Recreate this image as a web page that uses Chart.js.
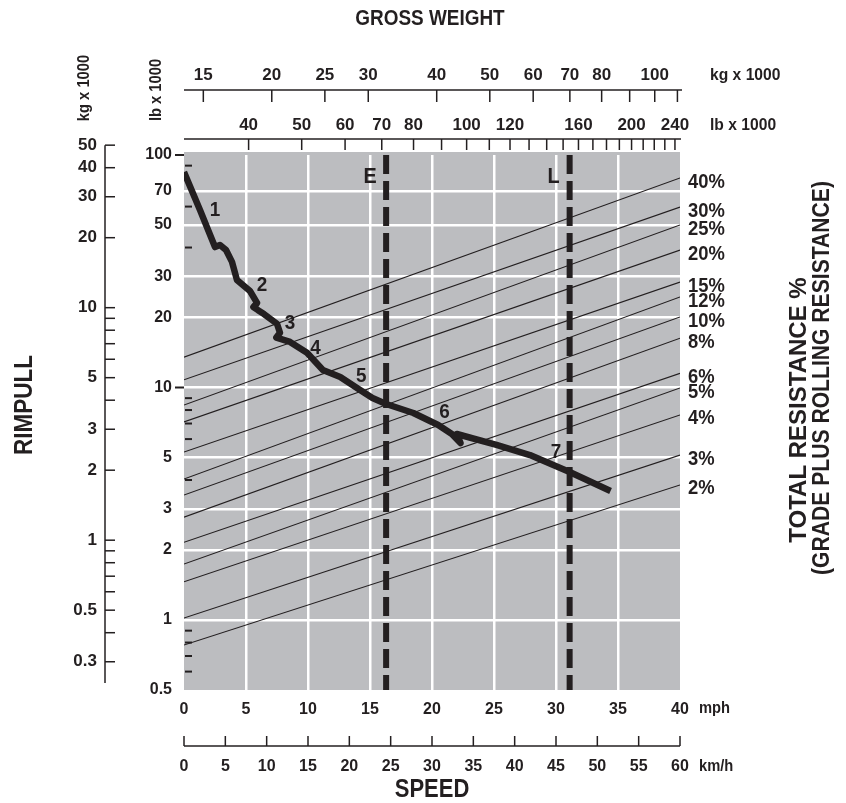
<!DOCTYPE html>
<html lang="en">
<head>
<meta charset="UTF-8">
<title>Rimpull - Speed - Gradeability</title>
<script src="https://cdn.jsdelivr.net/npm/chart.js"></script>
<style>
    body { margin: 0; background: #fff; }
    #wrap { width: 846px; height: 803px; }
</style>
</head>
<body>
<div id="wrap"><canvas id="rimpull" width="846" height="803"></canvas></div>
<script>
// speed (mph bottom, km/h below it)
const mphTicks = [0, 5, 10, 15, 20, 25, 30, 35, 40];
const kmhTicks = [0, 5, 10, 15, 20, 25, 30, 35, 40, 45, 50, 55, 60];

// rimpull, lb x 1000 (inner axis) and kg x 1000 (outer axis)
const lbTicks = [0.5, 1, 2, 3, 5, 10, 20, 30, 50, 70, 100];
const lbMinor = [90, 60, 40, 9, 8, 7, 6, 4, 0.9, 0.8, 0.7, 0.6];
const lbOuterDash = [100, 10];
const kgLeftTicks = [50, 40, 30, 20, 10, 5, 3, 2, 1, 0.5, 0.3];
const kgLeftMinor = [9, 8, 7, 6, 4, 0.9, 0.8, 0.7, 0.6, 0.4];

// gross weight scales on top
const kgTopTicks = [15, 20, 25, 30, 40, 50, 60, 70, 80, 90, 100, 110];
const kgTopLabels = [15, 20, 25, 30, 40, 50, 60, 70, 80, 100];
const lbTopTicks = [40, 50, 60, 70, 80, 90, 100, 110, 120, 130, 140, 150, 160, 170, 180, 190, 200, 210, 220, 230, 240];
const lbTopLabels = [40, 50, 60, 70, 80, 100, 120, 160, 200, 240];
const kgTopRange = [13.83, 111.2];
const LB_PER_KG = 2.2046;

// total resistance lines: rimpull at 0 mph and at 40 mph
const resNames = ['40%', '30%', '25%', '20%', '15%', '12%', '10%', '8%', '6%', '5%', '4%', '3%', '2%'];
const resStart = [13.5, 10.8, 8.41, 7.11, 5.28, 4.04, 3.45, 2.77, 2.16, 1.74, 1.46, 1.02, 0.78];
const resEnd = [79.6, 59.7, 50.0, 39.0, 28.4, 24.5, 20.1, 16.3, 11.5, 9.95, 7.62, 5.12, 3.81];

// rimpull curve
const curveMph = [0, 1.29, 2.5, 2.9, 3.39, 3.87, 4.27, 5.32, 5.89, 5.6, 5.97, 6.45, 7.5, 7.74, 7.45, 8.55,
    9.92, 11.2, 12.6, 14.2, 15.2, 16.3, 18.5, 20.5, 21.6, 22.3, 22.0, 25.2, 27.9, 31.1, 34.4];
const curveLb = [84.5, 58.0, 40.2, 41.0, 39.0, 34.7, 29.0, 26.0, 23.1, 22.2, 21.5, 20.7, 18.8, 17.2, 16.4, 15.7,
    14.1, 11.9, 11.1, 9.75, 9.01, 8.49, 7.77, 6.90, 6.31, 5.77, 6.31, 5.66, 5.12, 4.33, 3.59];

// gear numbers
const gearNames = ['1', '2', '3', '4', '5', '6', '7'];
const gearMph = [2.5, 6.3, 8.55, 10.6, 14.3, 21.0, 30.0];
const gearLb = [58, 27.6, 18.9, 14.8, 11.2, 7.85, 5.28];

// E and L speed limits
const markerNames = ['E', 'L'];
const markerMph = [16.3, 31.1];

const FONT = '"Liberation Sans", Arial, sans-serif';
const INK = '#231f20';
const GRAY = '#bcbdc0';

// bold text, optionally rotated and squeezed horizontally
function txt(ctx, s, x, y, size, align, rot, squeeze) {
    ctx.save();
    ctx.font = 'bold ' + size + 'px ' + FONT;
    ctx.fillStyle = INK;
    ctx.textAlign = align || 'center';
    ctx.textBaseline = 'middle';
    ctx.translate(x, y);
    if (rot) ctx.rotate(rot);
    ctx.scale(squeeze || 1, 1);
    ctx.fillText(s, 0, 0);
    ctx.restore();
}

function seg(ctx, x1, y1, x2, y2) {
    ctx.beginPath();
    ctx.moveTo(x1, y1);
    ctx.lineTo(x2, y2);
    ctx.stroke();
}

const extras = {
    id: 'extras',
    beforeDraw(chart) {
        const { ctx, chartArea: a } = chart;
        ctx.save();
        ctx.fillStyle = GRAY;
        ctx.fillRect(a.left, a.top - 3, a.right - a.left, a.bottom - a.top + 3);
        ctx.restore();
    },
    afterDraw(chart) {
        const { ctx, chartArea: a, scales } = chart;
        const sy = scales.y, kgT = scales.kgTop, lbT = scales.lbTop, kgL = scales.kgLeft, kmh = scales.kmh, sx = scales.x;
        const up = -Math.PI / 2;
        ctx.save();
        ctx.strokeStyle = INK;
        ctx.lineWidth = 1.5;

        // top: kg x 1000
        seg(ctx, a.left, 90, a.right + 2, 90);
        kgTopTicks.forEach(v => { const x = kgT.getPixelForValue(v); seg(ctx, x, 90, x, 102); });
        kgTopLabels.forEach(v => txt(ctx, String(v), kgT.getPixelForValue(v), 75, 17));
        txt(ctx, 'kg x 1000', 710, 75, 17, 'left', 0, 0.92);

        // top: lb x 1000
        seg(ctx, a.left, 139, a.right + 1, 139);
        lbTopTicks.forEach(v => { const x = lbT.getPixelForValue(v); seg(ctx, x, 139, x, 150); });
        lbTopLabels.forEach(v => txt(ctx, String(v), lbT.getPixelForValue(v), 125, 17));
        txt(ctx, 'lb x 1000', 710, 125, 17, 'left', 0, 0.92);

        txt(ctx, 'GROSS WEIGHT', 430, 19, 22, 'center', 0, 0.86);
        txt(ctx, 'kg x 1000', 85, 88, 16, 'center', up, 0.92);
        txt(ctx, 'lb x 1000', 157, 90, 16, 'center', up, 0.92);

        // left: kg x 1000
        seg(ctx, 105, kgL.getPixelForValue(50), 105, a.bottom - 7);
        kgLeftTicks.concat(kgLeftMinor).forEach(v => { const y = kgL.getPixelForValue(v); seg(ctx, 105, y, 115, y); });
        kgLeftTicks.forEach(v => txt(ctx, String(v), 97, kgL.getPixelForValue(v), 17, 'right'));
        txt(ctx, 'RIMPULL', 25, 405, 25, 'center', up, 0.9);

        // lb x 1000 dashes
        ctx.lineWidth = 2;
        lbOuterDash.forEach(v => { const y = sy.getPixelForValue(v); seg(ctx, a.left - 9, y, a.left, y); });
        lbMinor.forEach(v => { const y = sy.getPixelForValue(v); seg(ctx, a.left + 1, y, a.left + 8, y); });
        ctx.lineWidth = 1.5;

        // bottom: km/h
        seg(ctx, a.left, 746, a.right, 746);
        kmhTicks.forEach(v => { const x = kmh.getPixelForValue(v); seg(ctx, x, 736, x, 746); });
        kmhTicks.forEach(v => txt(ctx, String(v), kmh.getPixelForValue(v), 767, 16));
        txt(ctx, 'km/h', 699, 767, 16, 'left', 0, 0.92);
        txt(ctx, 'mph', 699, 709, 16, 'left', 0, 0.92);
        txt(ctx, 'SPEED', 432, 790, 25, 'center', 0, 0.88);

        // right: resistance labels and title
        resNames.forEach((s, i) => txt(ctx, s, a.right + 8, sy.getPixelForValue(resEnd[i]) + 4, 20, 'left', 0, 0.92));
        txt(ctx, 'TOTAL RESISTANCE %', 799, 410, 24, 'center', up, 1.0);
        txt(ctx, '(GRADE PLUS ROLLING RESISTANCE)', 822, 378, 24, 'center', up, 0.88);

        // gear numbers and markers
        gearNames.forEach((s, i) => txt(ctx, s, sx.getPixelForValue(gearMph[i]), sy.getPixelForValue(gearLb[i]), 21, 'center', 0, 0.9));
        markerNames.forEach((s, i) => txt(ctx, s, sx.getPixelForValue(markerMph[i]) - 16, a.top + 22, 22, 'center', 0, 0.9));
        ctx.restore();
    }
};

const datasets = [];
resNames.forEach((s, i) => {
    datasets.push({
        label: s,
        data: [{ x: 0, y: resStart[i] }, { x: 40, y: resEnd[i] }],
        borderColor: INK, borderWidth: 1.1, pointRadius: 0, xAxisID: 'x', yAxisID: 'y'
    });
});
markerNames.forEach((s, i) => {
    datasets.push({
        label: s,
        data: [{ x: markerMph[i], y: 100 }, { x: markerMph[i], y: 0.5 }],
        borderColor: INK, borderWidth: 6, borderDash: [19, 7], borderCapStyle: 'butt',
        pointRadius: 0, xAxisID: 'x', yAxisID: 'y'
    });
});
datasets.push({
    label: 'Rimpull',
    data: curveMph.map((m, i) => ({ x: m, y: curveLb[i] })),
    borderColor: INK, borderWidth: 6.5, borderJoinStyle: 'round', borderCapStyle: 'butt',
    pointRadius: 0, xAxisID: 'x', yAxisID: 'y'
});

const hideEdge = (lo, hi) => c => (c.tick && (c.tick.value === lo || c.tick.value === hi)) ? 'rgba(0,0,0,0)' : '#ffffff';

new Chart(document.getElementById('rimpull'), {
    type: 'line',
    data: { datasets },
    options: {
        responsive: false,
        animation: false,
        layout: { padding: { left: 0, top: 155, right: 166, bottom: 0 } },
        plugins: { legend: { display: false }, tooltip: { enabled: false } },
        scales: {
            x: {
                type: 'linear', position: 'bottom', min: 0, max: 40,
                afterBuildTicks: s => { s.ticks = mphTicks.map(v => ({ value: v })); },
                afterFit: s => { s.height = 113; },
                grid: { color: hideEdge(0, 40), lineWidth: 2.5, drawTicks: false },
                border: { display: false },
                ticks: { color: INK, padding: 10, font: { family: FONT, size: 16, weight: 'bold' }, maxRotation: 0 }
            },
            y: {
                type: 'logarithmic', position: 'left', min: 0.5, max: 100,
                afterBuildTicks: s => { s.ticks = lbTicks.map(v => ({ value: v })); },
                afterFit: s => { s.width = 184; },
                grid: { color: hideEdge(0.5, 100), lineWidth: 2.5, drawTicks: false },
                border: { display: false },
                ticks: { color: INK, padding: 12, font: { family: FONT, size: 16, weight: 'bold' }, callback: v => String(v) }
            },
            kgTop: { type: 'logarithmic', axis: 'x', position: 'top', display: false, min: kgTopRange[0], max: kgTopRange[1] },
            lbTop: { type: 'logarithmic', axis: 'x', position: 'top', display: false, min: kgTopRange[0] * LB_PER_KG, max: kgTopRange[1] * LB_PER_KG },
            kgLeft: { type: 'logarithmic', axis: 'y', position: 'left', display: false, min: 0.5 / LB_PER_KG, max: 100 / LB_PER_KG },
            kmh: { type: 'linear', axis: 'x', position: 'bottom', display: false, min: 0, max: 60 }
        }
    },
    plugins: [extras]
});
</script>
</body>
</html>
